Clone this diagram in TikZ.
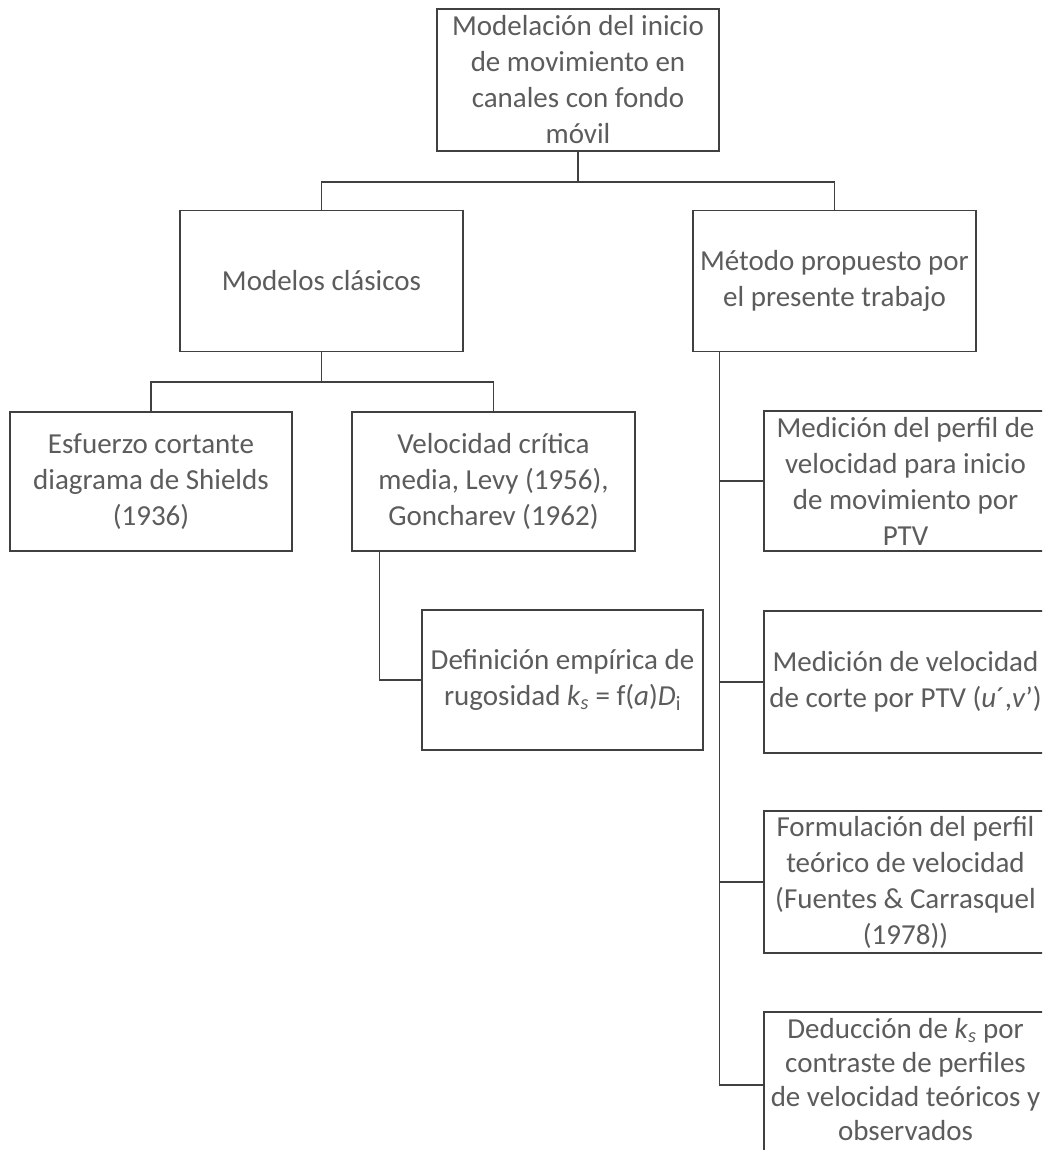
\documentclass[tikz,border=0pt]{standalone}
\usepackage{fontspec}
\setmainfont{Carlito}
\definecolor{txtgray}{RGB}{92,92,92}
\definecolor{linegray}{RGB}{64,64,64}
\begin{document}
\begin{tikzpicture}[x=1pt,y=-1pt,
  box/.style={draw=linegray, line width=1.5pt, fill=white, align=center,
    text=txtgray, inner sep=2pt, font=\fontsize{29}{36}\selectfont},
  boxtext/.style={align=center, text=txtgray, inner sep=0pt,
    font=\fontsize{29}{34}\selectfont},
  conn/.style={draw=linegray, line width=1.5pt}]
\useasboundingbox (0,0) rectangle (1042,1150);
\clip (0,0) rectangle (1042,1150);
\fill[white] (0,0) rectangle (1042,1150);

\node[box, minimum width=282pt, minimum height=142pt] (top) at (578,80)
  {Modelación del inicio\\de movimiento en\\canales con fondo\\móvil};
\node[box, minimum width=283pt, minimum height=141pt] (modelos) at (321.5,281)
  {Modelos clásicos};
\node[box, minimum width=283pt, minimum height=141pt] (metodo) at (834.5,281)
  {Método propuesto por\\el presente trabajo};
\node[box, minimum width=282pt, minimum height=139pt] (esf) at (151,481.5)
  {Esfuerzo cortante\\diagrama de Shields\\(1936)};
\node[box, minimum width=283pt, minimum height=139pt] (vel) at (493.5,481.5)
  {Velocidad crítica\\media, Levy (1956),\\Goncharev (1962)};
\node[box, minimum width=281pt, minimum height=140pt] (defi) at (562.5,680)
  {Definición empírica de\\rugosidad \textit{k}\textsubscript{\textit{s}} = f(\textit{a})\textit{D}\textsubscript{i}};
\node[box, minimum width=283pt, minimum height=140pt] (m1) at (905.5,481)
  {Medición del perfil de\\velocidad para inicio\\de movimiento por\\PTV};
\node[box, minimum width=283pt, minimum height=142pt] (m2) at (905.5,682)
  {Medición de velocidad\\de corte por PTV (\textit{u}´,\textit{v}')};
\node[box, minimum width=283pt, minimum height=142pt] (m3) at (905.5,882)
  {Formulación del perfil\\teórico de velocidad\\(Fuentes \& Carrasquel\\(1978))};
\node[box, minimum width=283pt, minimum height=146pt] (m4) at (905.5,1085) {};
\node[boxtext] (m4t) at ([yshift=5pt]m4.center)
  {Deducción de \textit{k}\textsubscript{\textit{s}} por\\contraste de perfiles\\de velocidad teóricos y\\observados};

% connectors
\coordinate (j1) at (578,182);
\draw[conn] (top.south) -- (j1);
\draw[conn] (modelos.north) |- (j1) -| (metodo.north);
\coordinate (j2) at (321.5,382);
\draw[conn] (modelos.south) -- (j2);
\draw[conn] (esf.north) |- (j2) -| (vel.north);
\coordinate (vtrunk) at ([xshift=28pt]vel.south west);
\draw[conn] (vtrunk) |- (defi.west);
\coordinate (trunk) at ([xshift=27pt]metodo.south west);
\draw[conn] (trunk) |- (m4.west);
\foreach \n in {m1,m2,m3} {\draw[conn] (\n.west) -- (\n.west -| trunk);}
\end{tikzpicture}
\end{document}
